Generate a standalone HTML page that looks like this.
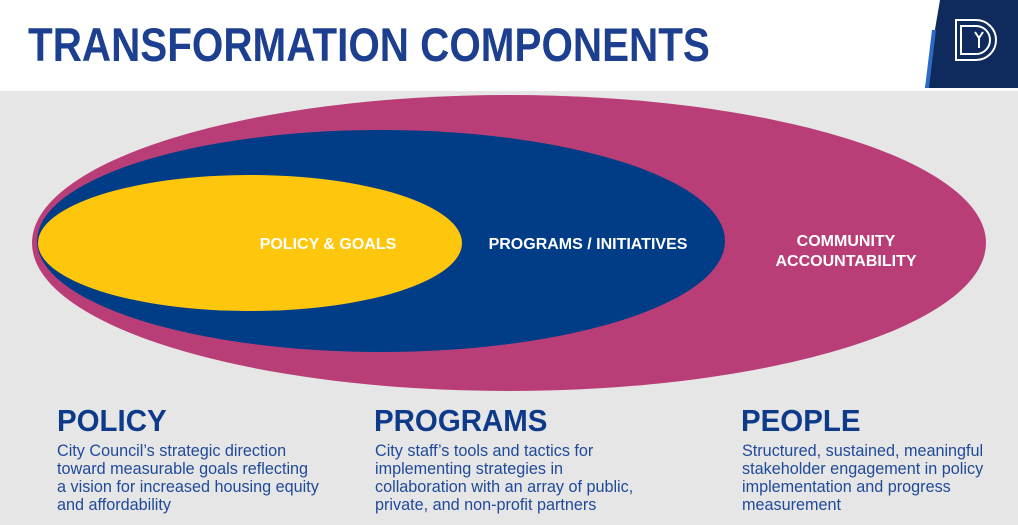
<!DOCTYPE html>
<html><head><meta charset="utf-8"><style>
html,body{margin:0;padding:0}
body{width:1018px;height:525px;position:relative;overflow:hidden;background:#e6e6e6;font-family:"Liberation Sans",sans-serif}
.hdr{position:absolute;left:0;top:0;width:1018px;height:91px;background:#fff}
.title{position:absolute;left:28px;top:17px;font-size:47px;font-weight:bold;color:#1d3f8f;white-space:nowrap;transform:scaleX(0.86);transform-origin:left}
h2{position:absolute;margin:0;font-size:31px;font-weight:bold;color:#0d3b8a;top:403px;transform:scaleX(0.95);transform-origin:left;white-space:nowrap}
p{position:absolute;margin:0;font-size:16.2px;line-height:18px;color:#1f4a9a;top:442px;white-space:nowrap}
</style></head><body>
<div class="hdr"></div>
<div class="title">TRANSFORMATION COMPONENTS</div>
<svg style="position:absolute;left:0;top:0" width="1018" height="525">
 <polygon points="940,0 1018,0 1018,88 925,88" fill="#0f2a5c"/>
 <polygon points="925,88 932,30 936,30 929,88" fill="#2c6bc4"/>
 <g fill="none" stroke="#fff" stroke-width="2">
  <path d="M956,20 h20 a20,20 0 0 1 0,40 h-20 z"/>
  <path d="M961,26 h15 a14,14 0 0 1 0,28 h-15 z"/>
 </g>
 <path d="M975,32 l4,6 l4,-6 M979,38 v10" stroke="#fff" stroke-width="2" fill="none"/>
 <ellipse cx="509" cy="243" rx="477" ry="148" fill="#b93e77"/>
 <ellipse cx="381" cy="241" rx="344" ry="111" fill="#003d86"/>
 <ellipse cx="250" cy="243" rx="212" ry="68" fill="#fec70d"/>
 <g font-family="Liberation Sans, sans-serif" font-weight="bold" font-size="16" fill="#fff" text-anchor="middle">
  <text x="328" y="249">POLICY &amp; GOALS</text>
  <text x="588" y="249">PROGRAMS / INITIATIVES</text>
  <text x="846" y="246">COMMUNITY</text>
  <text x="846" y="266">ACCOUNTABILITY</text>
 </g>
</svg>
<h2 style="left:57px">POLICY</h2>
<p style="left:57px">City Council’s strategic direction<br>toward measurable goals reflecting<br>a vision for increased housing equity<br>and affordability</p>
<h2 style="left:374px">PROGRAMS</h2>
<p style="left:375px">City staff’s tools and tactics for<br>implementing strategies in<br>collaboration with an array of public,<br>private, and non-profit partners</p>
<h2 style="left:741px">PEOPLE</h2>
<p style="left:742px">Structured, sustained, meaningful<br>stakeholder engagement in policy<br>implementation and progress<br>measurement</p>
</body></html>
